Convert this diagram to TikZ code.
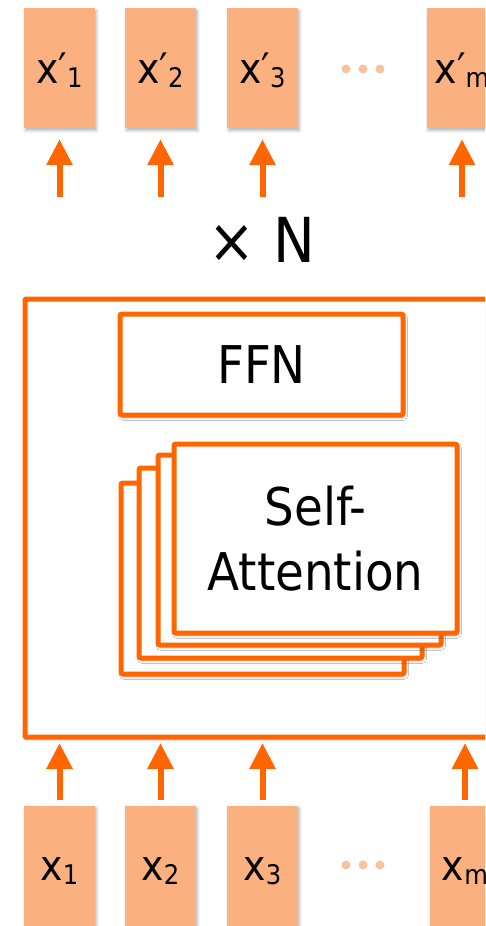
\documentclass[tikz,border=0pt]{standalone}
\usepackage{fontspec}
\setmainfont{DejaVu Sans Condensed}
\usetikzlibrary{arrows.meta,shadows.blur}

\definecolor{accent}{RGB}{255,102,0}
\definecolor{tokenfill}{RGB}{251,177,127}
\definecolor{dotfill}{RGB}{250,194,156}

% token label: letter with a lowered subscript
\newcommand\toklabel[2]{#1\raisebox{-4pt}{\fontsize{27}{27}\selectfont #2}}

\tikzset{
  softshadow/.style={blur shadow={shadow xshift=1.5pt, shadow yshift=-2.5pt,
      shadow blur radius=3pt, shadow opacity=30}},
  token/.style={fill=tokenfill, minimum width=71pt, minimum height=120pt,
      inner sep=0pt, text height=30pt, text depth=0pt,
      font=\fontsize{42}{42}\selectfont, softshadow},
  layerbox/.style={draw=accent, line width=5pt, fill=white, rounded corners=2pt,
      inner sep=0pt, softshadow},
  flow/.style={draw=accent, line width=6pt, -{Triangle[width=25pt,length=26pt]}},
  dot/.style={fill=dotfill},
}

\begin{document}
\begin{tikzpicture}[x=1pt, y=-1pt]
  \useasboundingbox (0,0) rectangle (485,926);
  \clip (0,0) rectangle (485,926);

  % encoder block (repeated N times)
  \node[layerbox, rounded corners=1pt, minimum width=495pt, minimum height=438pt]
    (block) at (272.5,518) {};

  % feed-forward sub-layer
  \node[layerbox, minimum width=283pt, minimum height=101pt,
        font=\fontsize{52}{52}\selectfont] (ffn) at (261.5,364.5) {FFN};

  % stacked attention heads, back to front
  \node[layerbox, minimum width=283pt, minimum height=191pt] (head4) at (262.5,578.5) {};
  \node[layerbox, minimum width=283pt, minimum height=190pt] (head3) at (280.5,563) {};
  \node[layerbox, minimum width=283pt, minimum height=190pt] (head2) at (299.5,550) {};
  \node[layerbox, minimum width=283pt, minimum height=189pt, align=center,
        font=\fontsize{52}{65}\selectfont] (head1) at (315.5,538.5) {Self-\\Attention};

  % repetition count
  \node[font=\fontsize{62}{62}\selectfont] (times) at (262,240) {× N};

  % output tokens
  \node[token] (o1) at (59.5,68) {\toklabel{x′}{1}};
  \node[token] (o2) at (160.5,68) {\toklabel{x′}{2}};
  \node[token] (o3) at (262.5,68) {\toklabel{x′}{3}};
  \node[token] (om) at (462,68) {\toklabel{x′}{m}};

  % input tokens
  \node[token] (i1) at (59.5,865.5) {\toklabel{x}{1}};
  \node[token] (i2) at (160.5,865.5) {\toklabel{x}{2}};
  \node[token] (i3) at (262.5,865.5) {\toklabel{x}{3}};
  \node[token] (im) at (465,865.5) {\toklabel{x}{m}};

  % ellipses between tokens
  \foreach \y in {69,865} {
    \foreach \x in {346,363,380} {
      \fill[dot] (\x,\y) circle (4.5pt);
    }
  }

  % outputs leave the stack of blocks
  \coordinate (s1) at (59.5,197);
  \coordinate (s2) at (160.5,197);
  \coordinate (s3) at (262.5,197);
  \coordinate (sm) at (462,197);
  \foreach \k in {1,2,3,m} {
    \draw[flow, shorten >=11pt] (s\k) -- (o\k.south);
  }

  % inputs enter the block
  \foreach \k in {1,2,3,m} {
    \draw[flow, shorten <=5pt, shorten >=3.5pt] (i\k.north) -- (i\k.north |- block.south);
  }
\end{tikzpicture}
\end{document}
